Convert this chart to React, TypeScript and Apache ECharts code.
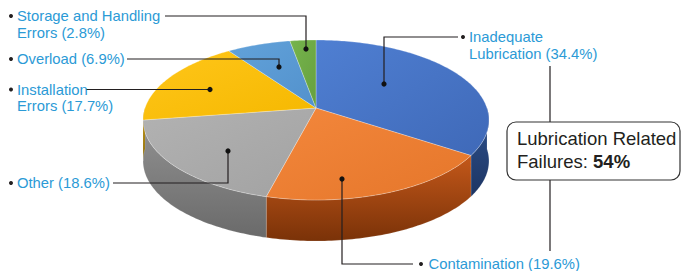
import React, { useEffect, useRef } from 'react';
import * as echarts from 'echarts';

// ---- data ----
const categories = [
  'Inadequate\nLubrication',
  'Contamination',
  'Other',
  'Installation\nErrors',
  'Overload',
  'Storage and Handling\nErrors',
];
const values = [34.4, 19.6, 18.6, 17.7, 6.9, 2.8];
const lubricationRelated = [0, 1];
const calloutTitle = 'Lubrication Related';
const calloutPrefix = 'Failures: ';

// ---- styles ----
const topColors = [
  ['#4F7FD2', '#3F69B8'],
  ['#F3873C', '#E5762A'],
  ['#B2B2B2', '#A2A2A2'],
  ['#FFC61A', '#F5B800'],
  ['#62A2DA', '#5291CC'],
  ['#76B44C', '#66A03F'],
];
const sideColors = [
  ['#2E528F', '#1D3563'],
  ['#C4581A', '#7A3208'],
  ['#929292', '#6A6A6A'],
  ['#C09000', '#8A6800'],
  ['#41719C', '#2E5070'],
  ['#507E32', '#3A5C24'],
];
const labelColor = '#2B9AD6';
const inkColor = '#231F20';
const labelFont = 'Liberation Sans, Arial, Helvetica, sans-serif';

// ---- geometry (layout) ----
const CX = 316;
const CY = 108;
const RX = 171;
const RY = 78.2;
const PERSP = 6.67;
const DEPTH = 41;

// label layout: [textX, firstLineCenterY, bulletX, leader polyline points]
const labelLayout: [number, number, number, number[][]][] = [
  [469, 37, 463, [[458, 37], [384, 37], [384, 84]]],
  [428.5, 264, 421, [[413, 264], [342, 264], [342, 179]]],
  [17, 183, 11, [[113, 183], [228, 183], [228, 151]]],
  [17, 89.5, 11, [[86, 89.5], [210, 89.5]]],
  [17, 59, 11, [[127, 59], [279, 59], [279, 67]]],
  [17, 16, 11, [[165, 16], [306, 16], [306, 49]]],
];

const starts: number[] = [];
values.reduce((acc, v) => {
  starts.push(acc);
  return acc + v;
}, 0);
const total = values.reduce((a, b) => a + b, 0);
const seriesData = values.map((v, i) => [starts[i], starts[i] + v, i]);

function proj(deg: number, dy = 0): number[] {
  const t = (deg * Math.PI) / 180;
  const X = Math.sin(t);
  const Z = -Math.cos(t);
  const s = PERSP / (PERSP - Z);
  return [CX + RX * X * s, CY + RY * Z * s + dy];
}

function arc(a: number, b: number, dy = 0): number[][] {
  const pts: number[][] = [];
  const n = Math.max(2, Math.ceil(Math.abs(b - a)));
  for (let k = 0; k <= n; k++) pts.push(proj(a + ((b - a) * k) / n, dy));
  return pts;
}

function grad(c: string[], x2 = 0, y2 = 1) {
  return new echarts.graphic.LinearGradient(0, 0, x2, y2, [
    { offset: 0, color: c[0] },
    { offset: 1, color: c[1] },
  ]);
}

export default function App() {
  const ref = useRef<HTMLDivElement>(null);
  useEffect(() => {
    if (!ref.current) return;
    const chart = echarts.init(ref.current, null, { renderer: 'svg' });

    const graphics: any[] = [];
    labelLayout.forEach(([tx, ty, bx, line], i) => {
      const txt = `${categories[i]} (${values[i].toFixed(1)}%)`;
      graphics.push({
        type: 'polyline',
        z: 10,
        shape: { points: line },
        style: { stroke: inkColor, lineWidth: 1.2, fill: null },
      });
      const end = line[line.length - 1];
      graphics.push({
        type: 'circle',
        z: 11,
        shape: { cx: end[0], cy: end[1], r: 2.6 },
        style: { fill: '#111' },
      });
      graphics.push({
        type: 'circle',
        z: 11,
        shape: { cx: bx, cy: ty, r: 2 },
        style: { fill: inkColor },
      });
      graphics.push({
        type: 'text',
        z: 11,
        x: tx,
        y: ty - 8.25,
        style: {
          text: txt,
          fill: labelColor,
          fontSize: 14.8,
          fontFamily: labelFont,
          lineHeight: 16.5,
          verticalAlign: 'top',
          align: 'left',
        },
      });
    });

    const lubTotal = lubricationRelated.reduce((a, i) => a + values[i], 0);
    graphics.push(
      {
        type: 'line',
        z: 10,
        shape: { x1: 550, y1: 66, x2: 550, y2: 122 },
        style: { stroke: inkColor, lineWidth: 1.2 },
      },
      {
        type: 'line',
        z: 10,
        shape: { x1: 550, y1: 180, x2: 550, y2: 251 },
        style: { stroke: inkColor, lineWidth: 1.2 },
      },
      {
        type: 'rect',
        z: 10,
        shape: { x: 507, y: 122, width: 173, height: 58, r: 9 },
        style: { fill: '#fff', stroke: '#333', lineWidth: 1.2 },
      },
      {
        type: 'text',
        z: 11,
        x: 517,
        y: 138.5 - 11.5,
        style: {
          text: `{a|${calloutTitle}}\n{a|${calloutPrefix}}{b|${Math.round(lubTotal)}%}`,
          verticalAlign: 'top',
          rich: {
            a: { fontSize: 18.5, fontFamily: labelFont, fill: inkColor, lineHeight: 23 },
            b: {
              fontSize: 18.5,
              fontFamily: labelFont,
              fontWeight: 'bold',
              fill: inkColor,
              lineHeight: 23,
            },
          },
        },
      }
    );

    chart.setOption({
      animation: false,
      backgroundColor: '#fff',
      series: [
        {
          type: 'custom',
          coordinateSystem: 'none',
          z: 1,
          silent: true,
          data: seriesData,
          renderItem: (_p: any, api: any) => {
            const a = (api.value(0) / total) * 360;
            const b = (api.value(1) / total) * 360;
            const i = api.value(2);
            const a2 = Math.max(a, 90);
            const b2 = Math.min(b, 270);
            if (a2 >= b2) return null;
            const top = arc(a2, b2, 0);
            const bottom = arc(b2, a2, DEPTH);
            return {
              type: 'polygon',
              shape: { points: top.concat(bottom) },
              style: {
                fill: grad(sideColors[i]),
                stroke: 'rgba(255,255,255,0.25)',
                lineWidth: 0.6,
              },
            };
          },
        },
        {
          type: 'custom',
          coordinateSystem: 'none',
          z: 2,
          silent: true,
          data: seriesData,
          renderItem: (_p: any, api: any) => {
            const a = (api.value(0) / total) * 360;
            const b = (api.value(1) / total) * 360;
            const i = api.value(2);
            const pts = [[CX, CY]].concat(arc(a, b, 0));
            return {
              type: 'polygon',
              shape: { points: pts },
              style: {
                fill: grad(topColors[i], 1, 1),
                stroke: 'rgba(255,255,255,0.35)',
                lineWidth: 0.8,
              },
            };
          },
        },
      ],
      graphic: graphics,
    });
    return () => chart.dispose();
  }, []);
  return (
    <div
      ref={ref}
      style={{ position: 'fixed', left: 0, top: 0, width: 682, height: 271 }}
    />
  );
}
